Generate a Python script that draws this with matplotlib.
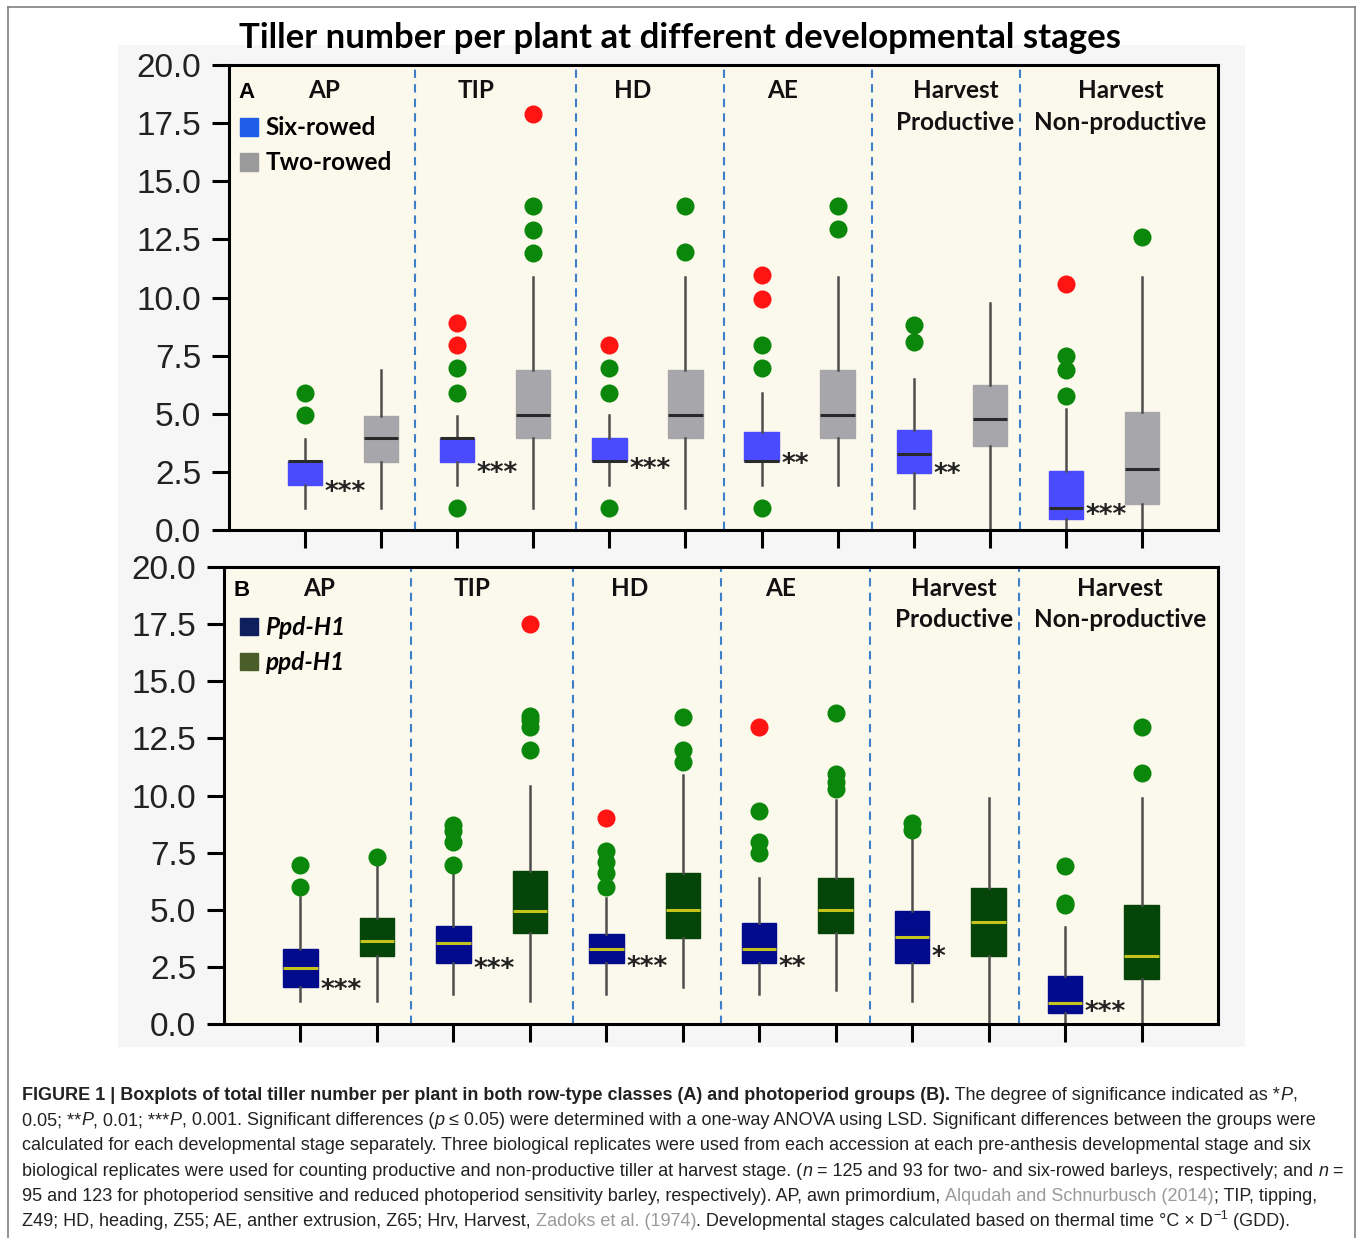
import matplotlib
matplotlib.use("Agg")
import numpy as np
import matplotlib.pyplot as plt
from matplotlib.patches import Patch, Rectangle
from matplotlib.lines import Line2D
from matplotlib.font_manager import FontProperties

W, H = 1360, 1238

stages = ["AP", "TIP", "HD", "AE", "Harvest\nProductive", "Harvest\nNon-productive"]
stage_x = [1.25, 3.25, 5.3, 7.28, 9.55, 11.72]
dividers = [2.45, 4.56, 6.5, 8.45, 10.4]

# A: row type (six-rowed vs two-rowed)
six_q1 = [1.95, 2.92, 2.95, 2.95, 2.45, 0.47]
six_med = [2.95, 3.95, 2.98, 2.98, 3.26, 0.95]
six_q3 = [2.95, 3.95, 3.95, 4.2, 4.3, 2.53]
six_lo = [0.95, 1.95, 1.95, 1.95, 0.95, 0.0]
six_hi = [3.9, 4.9, 4.95, 5.9, 6.5, 5.2]
six_green = [[4.95, 5.9], [0.95, 5.9, 6.95], [0.95, 5.9, 6.95], [0.95, 6.95, 7.95], [8.1, 8.8], [5.75, 6.9, 7.5]]
six_red = [[], [7.95, 8.9], [7.95], [9.95, 10.95], [], [10.6]]

two_q1 = [2.92, 3.95, 3.95, 3.95, 3.6, 1.12]
two_med = [3.95, 4.95, 4.95, 4.95, 4.76, 2.62]
two_q3 = [4.9, 6.9, 6.9, 6.9, 6.22, 5.06]
two_lo = [0.95, 0.95, 0.95, 1.95, 0.1, 0.0]
two_hi = [6.9, 10.9, 10.9, 10.9, 9.75, 10.9]
two_green = [[], [11.9, 12.9, 13.95], [11.95, 13.95], [12.95, 13.95], [], [12.6]]
two_red = [[], [17.9], [], [], [], []]

stars_a = ["***", "***", "***", "**", "**", "***"]
stars_a_y = [2.0, 2.83, 3.0, 3.2, 2.8, 1.03]

# B: photoperiod (Ppd-H1 vs ppd-H1)
Ppd_q1 = [1.62, 2.66, 2.66, 2.66, 2.66, 0.48]
Ppd_med = [2.45, 3.54, 3.3, 3.3, 3.8, 0.92]
Ppd_q3 = [3.28, 4.28, 3.93, 4.4, 4.93, 2.1]
Ppd_lo = [1.0, 1.3, 1.3, 1.3, 1.0, 0.0]
Ppd_hi = [5.55, 6.6, 5.5, 6.4, 8.2, 4.24]
Ppd_green = [[6.0, 6.95], [6.95, 7.95, 8.45, 8.7], [6.0, 6.6, 7.1, 7.55], [7.5, 7.95, 9.3], [8.47, 8.78], [5.2, 5.3, 6.9]]
Ppd_red = [[], [], [9.0], [13.0], [], []]

ppd_q1 = [2.97, 3.97, 3.75, 4.0, 2.97, 1.97]
ppd_med = [3.62, 4.93, 4.98, 4.98, 4.45, 2.97]
ppd_q3 = [4.63, 6.68, 6.6, 6.4, 5.94, 5.2]
ppd_lo = [1.0, 1.0, 1.6, 1.5, 0.0, 0.0]
ppd_hi = [7.25, 10.4, 10.9, 9.8, 9.9, 9.9]
ppd_green = [[7.3], [12.0, 13.0, 13.3, 13.5], [11.45, 12.0, 13.45], [10.3, 10.6, 10.95, 13.6], [], [11.0, 13.0]]
ppd_red = [[], [17.5], [], [], [], []]

stars_b = ["***", "***", "***", "**", "*", "***"]
stars_b_y = [1.88, 2.8, 2.88, 2.88, 3.3, 0.92]

GREEN = "#0b870b"
RED = "#ff1414"
WHISK = "#4e4e4e"


def px_rect(x0, y0, x1, y1):
    return [x0 / W, 1 - y1 / H, (x1 - x0) / W, (y1 - y0) / H]


def boxes(ax, pos, q1, med, q3, lo, hi, green, red, color, med_color):
    stats = [dict(q1=a, med=m, q3=b, whislo=l, whishi=h, fliers=[])
             for a, m, b, l, h in zip(q1, med, q3, lo, hi)]
    ax.bxp(stats, positions=pos, widths=0.45, patch_artist=True,
           showcaps=False, showfliers=False,
           boxprops=dict(facecolor=color, edgecolor=color, lw=1),
           whiskerprops=dict(color=WHISK, lw=1.8),
           medianprops=dict(color=med_color, lw=2.2))
    for p, g, r in zip(pos, green, red):
        ax.plot([p] * len(g), g, "o", color=GREEN, ms=13, mec="none", zorder=4)
        ax.plot([p] * len(r), r, "o", color=RED, ms=13, mec="none", zorder=4)


def panel(ax, letter, top_frac):
    ax.set_facecolor("#fbf8ec")
    ax.set_xlim(0, 13)
    ax.set_ylim(0, 20)
    ax.set_yticks(np.arange(0, 20.1, 2.5))
    ax.set_yticklabels([f"{v:.1f}" for v in np.arange(0, 20.1, 2.5)])
    ax.set_xticks(np.arange(1, 13))
    ax.set_xticklabels([])
    ax.tick_params(axis="y", direction="out", length=12, width=2.2, pad=8,
                   labelsize=24, labelcolor="#222222", labelfontfamily="Liberation Sans")
    ax.tick_params(axis="x", direction="out", length=13, width=2.2)
    for s in ax.spines.values():
        s.set_linewidth(2.2)
    for d in dividers:
        ax.axvline(d, color="#3d7fc9", lw=1.5, ls=(0, (4, 3)), zorder=1)
    for name, x in zip(stages, stage_x):
        lines = name.split("\n")
        for k, ln in enumerate(lines):
            ax.text(x, top_frac - 0.069 * k, ln, transform=ax.get_xaxis_transform(),
                    ha="center", va="center", fontsize=17.5, fontweight="bold",
                    family="Lato", color="#111111")
    ax.text(0.01, top_frac - 0.006, letter, transform=ax.transAxes, ha="left", va="center",
            fontsize=16, fontweight="bold", family="Liberation Sans")


def stars(ax, pos, labels, ys):
    for p, s, y in zip(pos, labels, ys):
        ax.annotate(s, (p + 0.24, y), xytext=(1, -12), textcoords="offset points",
                    ha="left", va="baseline", fontsize=19, fontweight="bold",
                    family="DejaVu Sans", color="#222222")


fig = plt.figure(figsize=(W / 100, H / 100), dpi=100)

# light panel behind the two plots and the page frame
fig.patches.append(Rectangle((118 / W, 1 - 1047 / H), (1245 - 118) / W, (1047 - 45) / H,
                             transform=fig.transFigure, facecolor="#f6f6f6",
                             edgecolor="none", zorder=-5))
for xs, ys in [([8, 8], [7, 1300]), ([8, 1355], [7, 7]), ([1355, 1355], [7, 1300])]:
    fig.add_artist(Line2D([x / W for x in xs], [1 - y / H for y in ys],
                          transform=fig.transFigure, color="#808080", lw=1.2))

pos1 = np.arange(1, 13, 2)
pos2 = pos1 + 1

axA = fig.add_axes(px_rect(229, 65, 1218, 530))
panel(axA, "A", 0.946)
boxes(axA, pos1, six_q1, six_med, six_q3, six_lo, six_hi, six_green, six_red, "#4a4bff", "#2a2a2a")
boxes(axA, pos2, two_q1, two_med, two_q3, two_lo, two_hi, two_green, two_red, "#a7a7ab", "#2a2a2a")
stars(axA, pos1, stars_a, stars_a_y)
axA.set_xlim(0, 13)
axA.set_xticks(np.arange(1, 13))
axA.set_xticklabels([])

axB = fig.add_axes(px_rect(224, 567, 1218, 1024))
panel(axB, "B", 0.954)
boxes(axB, pos1, Ppd_q1, Ppd_med, Ppd_q3, Ppd_lo, Ppd_hi, Ppd_green, Ppd_red, "#020b8c", "#c4c41c")
boxes(axB, pos2, ppd_q1, ppd_med, ppd_q3, ppd_lo, ppd_hi, ppd_green, ppd_red, "#054507", "#c4c41c")
stars(axB, pos1, stars_b, stars_b_y)
axB.set_xlim(0, 13)
axB.set_xticks(np.arange(1, 13))
axB.set_xticklabels([])

leg_kw = dict(loc="upper left", frameon=False, handlelength=0.75, handleheight=0.75,
              handletextpad=0.3, labelspacing=0.5, borderpad=0, borderaxespad=0)
axA.legend(handles=[Patch(color="#1f5ee6", label="Six-rowed"),
                    Patch(color="#9b9b9b", label="Two-rowed")],
           bbox_to_anchor=(0.011, 0.89),
           prop=FontProperties(family="Lato", weight="bold", size=17.5), **leg_kw)
axB.legend(handles=[Patch(color="#0f1f5e", label="Ppd-H1"),
                    Patch(color="#4b5e2a", label="ppd-H1")],
           bbox_to_anchor=(0.016, 0.893),
           prop=FontProperties(family="Lato", weight="bold", style="italic", size=17.5), **leg_kw)

fig.text(680 / W, 1 - 38 / H, "Tiller number per plant at different developmental stages",
         ha="center", va="center", fontsize=25, fontweight="bold", family="Lato")

# caption, written run by run so bold / italic / grey pieces sit inline
renderer = fig.canvas.get_renderer()
CAP = 13.0


def run_width(txt, props):
    a = fig.text(0, 0, "|" + txt + "|", **props)
    b = fig.text(0, 0, "||", **props)
    w = a.get_window_extent(renderer).width - b.get_window_extent(renderer).width
    a.remove()
    b.remove()
    return w


def caption_line(y, runs):
    x = 22
    for txt, style in runs:
        props = dict(family="Liberation Sans", fontsize=CAP, color="#222222")
        dy = 0
        if style == "b":
            props["fontweight"] = "bold"
        elif style == "i":
            props["fontstyle"] = "italic"
        elif style == "g":
            props["color"] = "#9a9a9a"
        elif style == "sup":
            props["fontsize"] = CAP * 0.72
            dy = 7
        fig.text(x / W, 1 - (y - dy) / H, txt, ha="left", va="baseline", **props)
        x += run_width(txt, props)


n, b, i, g = "n", "b", "i", "g"
caption = [
    [("FIGURE 1 | Boxplots of total tiller number per plant in both row-type classes (A) and photoperiod groups (B).", b),
     (" The degree of significance indicated as *", n), ("P", i), (",", n)],
    [("0.05; **", n), ("P", i), (", 0.01; ***", n), ("P", i), (", 0.001. Significant differences (", n), ("p", i),
     (" \u2264 0.05) were determined with a one-way ANOVA using LSD. Significant differences between the groups were", n)],
    [("calculated for each developmental stage separately. Three biological replicates were used from each accession at each pre-anthesis developmental stage and six", n)],
    [("biological replicates were used for counting productive and non-productive tiller at harvest stage. (", n), ("n", i),
     (" = 125 and 93 for two- and six-rowed barleys, respectively; and ", n), ("n", i), (" =", n)],
    [("95 and 123 for photoperiod sensitive and reduced photoperiod sensitivity barley, respectively). AP, awn primordium, ", n),
     ("Alqudah and Schnurbusch (2014)", g), ("; TIP, tipping,", n)],
    [("Z49; HD, heading, Z55; AE, anther extrusion, Z65; Hrv, Harvest, ", n), ("Zadoks et al. (1974)", g),
     (". Developmental stages calculated based on thermal time \u00b0C \u00d7 D", n), ("\u22121", "sup"), (" (GDD).", n)],
]
for k, runs in enumerate(caption):
    caption_line(1100 + 25.2 * k, runs)

fig.savefig("out.png", dpi=100)
